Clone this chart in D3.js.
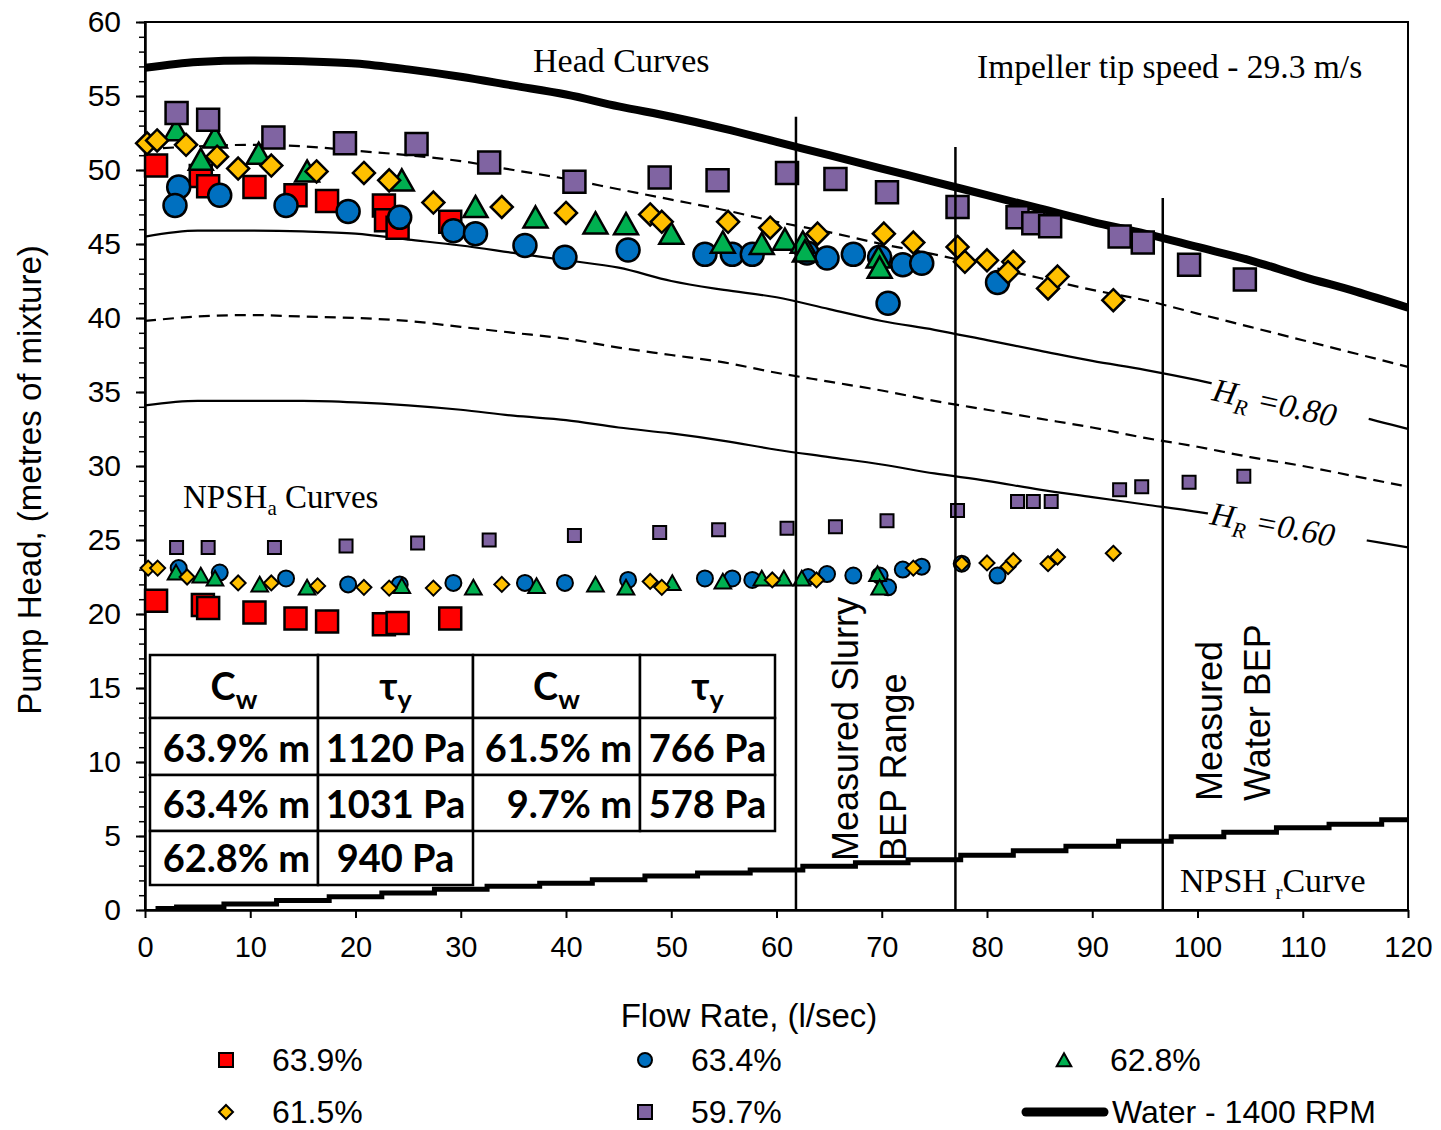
<!DOCTYPE html>
<meta charset="utf-8">
<script src="https://d3js.org/d3.v7.min.js"></script>
<style>
  body { margin: 0; background: #fff; }
  text { fill: #000; }
</style>
<div id="pump-chart"></div>
<script>

// ---- data ----
// measured head points [flow l/s, head m]
var head639 = [[1.05,50.3],[5.3,49.6],[6.0,48.9],[10.4,48.85],[14.3,48.3],[17.3,47.9],[22.7,47.6],[22.9,46.6],[24.0,46.1],[29.0,46.5]];
var head634 = [[3.2,48.85],[2.85,47.6],[7.1,48.3],[13.4,47.6],[19.3,47.2],[24.2,46.8],[29.3,45.9],[31.4,45.7],[36.1,44.9],[39.9,44.1],[45.9,44.6],[53.2,44.3],[55.8,44.3],[57.7,44.3],[62.9,44.4],[64.8,44.05],[67.3,44.3],[69.8,44.1],[70.6,41.0],[72.0,43.6],[73.8,43.7],[81.0,42.4]];
var head628 = [[2.95,52.7],[6.65,52.2],[5.3,50.7],[10.8,51.1],[15.4,49.9],[24.4,49.3],[31.4,47.5],[37.1,46.8],[42.8,46.4],[45.7,46.35],[50.0,45.7],[54.9,45.1],[58.6,45.0],[60.8,45.3],[62.5,45.1],[62.7,44.5],[69.7,44.1],[69.8,43.4]];
var head615 = [[0.2,51.8],[1.15,52.0],[3.9,51.7],[6.85,50.9],[8.85,50.1],[12.0,50.3],[16.3,49.9],[20.8,49.8],[23.2,49.3],[27.4,47.8],[33.9,47.5],[40.0,47.1],[48.0,47.0],[49.1,46.5],[55.4,46.5],[59.4,46.1],[63.9,45.7],[70.2,45.7],[73.0,45.1],[77.2,44.8],[77.9,43.8],[80.0,43.9],[82.5,43.8],[82.0,43.1],[85.8,42.0],[86.7,42.8],[92.0,41.2]];
var head597 = [[3.0,53.85],[6.0,53.4],[12.2,52.2],[19.0,51.8],[25.8,51.75],[32.7,50.5],[40.8,49.2],[48.9,49.5],[54.4,49.3],[61.0,49.8],[65.6,49.4],[70.5,48.5],[77.2,47.5],[82.9,46.8],[84.4,46.4],[86.0,46.2],[92.6,45.5],[94.8,45.1],[99.2,43.6],[104.5,42.6]];

// measured NPSHa points
var npsh639 = [[1.05,20.9],[5.5,20.6],[6.0,20.4],[10.4,20.1],[14.3,19.7],[17.3,19.5],[22.7,19.3],[24.0,19.4],[29.0,19.7]];
var npsh634 = [[3.2,23.1],[7.1,22.8],[13.4,22.4],[19.3,22.0],[24.2,22.0],[29.3,22.1],[36.1,22.1],[39.9,22.1],[45.9,22.3],[53.2,22.4],[55.8,22.4],[57.7,22.3],[63.0,22.5],[64.8,22.7],[67.3,22.6],[69.8,22.6],[70.6,21.8],[72.0,23.0],[73.8,23.2],[77.6,23.4],[81.0,22.6]];
var npsh628 = [[2.95,22.8],[5.3,22.6],[6.65,22.4],[10.9,22.0],[15.4,21.8],[24.4,21.9],[31.2,21.8],[37.2,21.9],[42.8,22.0],[45.7,21.8],[50.1,22.1],[54.9,22.2],[58.6,22.4],[60.7,22.4],[62.4,22.4],[69.6,22.7],[69.8,21.8]];
var npsh615 = [[0.3,23.1],[1.2,23.1],[4.0,22.5],[8.85,22.1],[12.0,22.1],[16.4,21.9],[20.8,21.8],[23.2,21.75],[27.4,21.75],[33.9,22.0],[48.0,22.2],[49.1,21.8],[59.6,22.3],[63.8,22.3],[73.0,23.1],[77.6,23.4],[80.0,23.45],[82.0,23.2],[82.5,23.6],[85.8,23.4],[86.7,23.85],[92.0,24.1]];
var npsh597 = [[3.0,24.5],[6.0,24.5],[12.3,24.5],[19.1,24.6],[25.9,24.8],[32.7,25.0],[40.8,25.3],[48.9,25.5],[54.5,25.7],[61.0,25.8],[65.6,25.9],[70.5,26.3],[77.2,27.0],[82.9,27.6],[84.4,27.6],[86.1,27.6],[92.6,28.4],[94.7,28.6],[99.2,28.9],[104.4,29.3]];

// head curves, read every 5 l/s
var curveQ   = [0,5,10,15,20,25,30,35,40,45,50,55,60,65,70,75,80,85,90,95,100,105,110,115,120];
var water    = [56.9,57.3,57.4,57.35,57.2,56.8,56.3,55.7,55.1,54.3,53.6,52.8,51.9,51.0,50.1,49.2,48.3,47.4,46.5,45.7,44.8,43.9,42.8,41.8,40.7];
var hr90     = [51.4,51.6,51.7,51.6,51.3,51.0,50.6,50.0,49.4,48.7,48.0,47.3,46.5,45.8,45.0,44.3,43.5,42.7,41.9,41.2,40.3,39.4,38.5,37.6,36.7];
var hr80     = [45.5,45.9,45.9,45.85,45.7,45.3,44.9,44.4,43.9,43.4,42.5,41.9,41.4,40.6,39.8,39.2,38.5,37.8,37.1,36.5,35.8,35.0,34.2,33.4,32.5];
var hr70     = [39.8,40.1,40.2,40.1,40.0,39.8,39.4,39.0,38.6,38.0,37.5,37.0,36.3,35.7,35.1,34.4,33.8,33.2,32.6,31.9,31.3,30.6,30.0,29.3,28.6];
var hr60     = [34.1,34.4,34.4,34.4,34.3,34.1,33.8,33.4,33.1,32.6,32.2,31.7,31.1,30.6,30.1,29.5,29.0,28.4,27.9,27.4,26.9,26.3,25.7,25.1,24.5];

// NPSHr curve
var npshrQ = [1,5,10,15,20,25,30,35,40,45,50,55,60,65,70,75,80,85,90,95,100,105,110,115,120];
var npshrH = [0.1,0.2,0.4,0.65,0.9,1.15,1.4,1.6,1.8,2.05,2.3,2.5,2.7,2.95,3.2,3.4,3.7,4.0,4.3,4.65,4.95,5.25,5.55,5.8,6.1];

// BEP marker lines [flow, top of line]
var bepQ   = [61.85, 77.0, 96.7];
var bepTop = [53.6, 51.55, 48.1];

var seriesNames  = ["63.9%", "63.4%", "62.8%", "61.5%", "59.7%"];
var seriesColors = ["#FF0000", "#0070C0", "#00B050", "#FFC000", "#8064A2"];
var seriesShapes = ["square", "circle", "triangle", "diamond", "square"];

var tableHead = [["C","w"],["\u03c4","y"],["C","w"],["\u03c4","y"]];
var tableRows = [["63.9% m","1120 Pa","61.5% m","766 Pa"],
                 ["63.4% m","1031 Pa","9.7% m","578 Pa"],
                 ["62.8% m","940 Pa"]];

// ---- layout ----
var margin = {top: 22, right: 33, bottom: 220, left: 145},
    width = 1263,
    height = 888;

var svg = d3.select("#pump-chart")
  .append("svg")
    .attr("width", 1441)
    .attr("height", 1130)
    .style("font-family", "'Liberation Sans', Arial, sans-serif");

var g = svg.append("g")
    .attr("transform", "translate(" + margin.left + "," + margin.top + ")");

var x = d3.scaleLinear().domain([0, 120]).range([0, width]);
var y = d3.scaleLinear().domain([0, 60]).range([height, 0]);

g.append("clipPath").attr("id", "plotclip")
  .append("rect").attr("width", width).attr("height", height);

// frame
g.append("rect")
  .attr("width", width).attr("height", height)
  .attr("fill", "none").attr("stroke", "#000").attr("stroke-width", 2);

// minor y ticks
g.append("g")
  .call(d3.axisLeft(y).tickValues(d3.range(0, 61, 1)).tickSize(6).tickFormat(""))
  .call(function(a) { a.select(".domain").remove(); a.selectAll("line").attr("stroke-width", 1.5); });

// Y axis
g.append("g")
  .call(d3.axisLeft(y).tickValues(d3.range(0, 61, 5)).tickSize(9).tickPadding(15).tickSizeOuter(0))
  .call(function(a) {
    a.select(".domain").attr("stroke-width", 2.5);
    a.selectAll("line").attr("stroke-width", 2);
    a.selectAll("text").attr("font-size", 30).attr("font-family", "'Liberation Sans', Arial, sans-serif");
  });

// X axis
g.append("g")
  .attr("transform", "translate(0," + height + ")")
  .call(d3.axisBottom(x).tickValues(d3.range(0, 121, 10)).tickSize(8).tickPadding(18).tickSizeOuter(0))
  .call(function(a) {
    a.select(".domain").attr("stroke-width", 2.5);
    a.selectAll("line").attr("stroke-width", 2);
    a.selectAll("text").attr("font-size", 29).attr("font-family", "'Liberation Sans', Arial, sans-serif");
  });

// axis titles
svg.append("text")
  .attr("transform", "translate(41,480) rotate(-90)")
  .attr("text-anchor", "middle")
  .attr("font-size", 33)
  .text("Pump Head, (metres of mixture)");

svg.append("text")
  .attr("x", 749).attr("y", 1027)
  .attr("text-anchor", "middle")
  .attr("font-size", 33)
  .text("Flow Rate, (l/sec)");

// ---- curves ----
var plot = g.append("g").attr("clip-path", "url(#plotclip)");

function curvePts(vals) { return curveQ.map(function(q, i) { return [q, vals[i]]; }); }

var line = d3.line()
  .x(function(d) { return x(d[0]); })
  .y(function(d) { return y(d[1]); })
  .curve(d3.curveMonotoneX);

[[hr90, true], [hr80, false], [hr70, true], [hr60, false]].forEach(function(c) {
  plot.append("path")
    .datum(curvePts(c[0]))
    .attr("fill", "none")
    .attr("stroke", "#000")
    .attr("stroke-width", 2.2)
    .attr("stroke-dasharray", c[1] ? "11,7" : null)
    .attr("d", line);
});

plot.append("path")
  .datum(curvePts(water))
  .attr("fill", "none")
  .attr("stroke", "#000")
  .attr("stroke-width", 8)
  .attr("d", line);

plot.append("path")
  .datum(npshrQ.map(function(q, i) { return [q, npshrH[i]]; }))
  .attr("fill", "none")
  .attr("stroke", "#000")
  .attr("stroke-width", 5)
  .attr("d", d3.line()
    .x(function(d) { return x(d[0]); })
    .y(function(d) { return y(d[1]); })
    .curve(d3.curveStep));

// ---- markers ----
function symbolPath(shape, s) {
  if (shape === "square") return d3.symbol(d3.symbolSquare, s * s)();
  if (shape === "circle") return d3.symbol(d3.symbolCircle, Math.PI * s * s / 4)();
  if (shape === "triangle") return "M0," + (-s * 0.48) + "L" + (s * 0.52) + "," + (s * 0.44) + "L" + (-s * 0.52) + "," + (s * 0.44) + "Z";
  return "M0," + (-s / 2) + "L" + (s / 2) + ",0L0," + (s / 2) + "L" + (-s / 2) + ",0Z";
}

var headSets = [head639, head634, head628, head615, head597];
var npshSets = [npsh639, npsh634, npsh628, npsh615, npsh597];
var headSize = [22, 23, 23, 22, 22];
var npshSize = [22, 16, 16, 15, 13];

var marks = g.append("g");
headSets.forEach(function(pts, i) {
  // NPSH markers
  marks.selectAll(".np" + i)
    .data(npshSets[i])
    .enter().append("path")
      .attr("transform", function(d) { return "translate(" + x(d[0]) + "," + y(d[1]) + ")"; })
      .attr("d", symbolPath(seriesShapes[i], npshSize[i]))
      .attr("fill", seriesColors[i])
      .attr("stroke", "#000")
      .attr("stroke-width", i === 0 ? 2.5 : 2);
  // head markers
  marks.selectAll(".hd" + i)
    .data(pts)
    .enter().append("path")
      .attr("transform", function(d) { return "translate(" + x(d[0]) + "," + y(d[1]) + ")"; })
      .attr("d", symbolPath(seriesShapes[i], headSize[i]))
      .attr("fill", seriesColors[i])
      .attr("stroke", "#000")
      .attr("stroke-width", 2.5);
});

// BEP vertical lines
g.selectAll(".bep")
  .data(bepQ)
  .enter().append("line")
    .attr("x1", function(d) { return x(d); })
    .attr("x2", function(d) { return x(d); })
    .attr("y1", function(d, i) { return y(bepTop[i]); })
    .attr("y2", y(0))
    .attr("stroke", "#000")
    .attr("stroke-width", 2.5);

// ---- annotations ----
var serif = "'Liberation Serif', 'Times New Roman', serif";

svg.append("text").attr("x", 533).attr("y", 72)
  .attr("font-family", serif).attr("font-size", 34).text("Head Curves");

svg.append("text").attr("x", 977).attr("y", 78)
  .attr("font-family", serif).attr("font-size", 33.5).text("Impeller tip speed - 29.3 m/s");

var npa = svg.append("text").attr("x", 183).attr("y", 508)
  .attr("font-family", serif).attr("font-size", 33);
npa.append("tspan").text("NPSH");
npa.append("tspan").attr("font-size", 21).attr("dy", 7).text("a");
npa.append("tspan").attr("dy", -7).text(" Curves");

var npr = svg.append("text").attr("x", 1180).attr("y", 892)
  .attr("font-family", serif).attr("font-size", 34);
npr.append("tspan").text("NPSH ");
npr.append("tspan").attr("font-size", 21).attr("dy", 7).text("r");
npr.append("tspan").attr("dy", -7).text("Curve");

// HR labels sitting on the lines
function hrLabel(px, py, angle, val) {
  var lg = svg.append("g").attr("transform", "translate(" + px + "," + py + ") rotate(" + angle + ")");
  var bg = lg.append("rect").attr("fill", "#fff");
  var t = lg.append("text")
    .attr("font-family", serif).attr("font-style", "italic").attr("font-size", 33);
  t.append("tspan").text("H");
  t.append("tspan").attr("font-size", 22).attr("dy", 8).text("R");
  t.append("tspan").attr("dy", -8).text(" =" + val);
  var b = t.node().getBBox();
  bg.attr("x", b.x - 2).attr("y", b.y + 4).attr("width", b.width + 34).attr("height", b.height - 6);
}
hrLabel(1211, 400, 12.5, "0.80");
hrLabel(1209, 524, 10.5, "0.60");

// BEP labels (rotated)
function vLabel(px, py, txt) {
  svg.append("text")
    .attr("transform", "translate(" + px + "," + py + ") rotate(-90)")
    .attr("font-size", 36)
    .text(txt);
}
vLabel(858, 861, "Measured Slurry");
vLabel(906, 861, "BEP Range");
vLabel(1222, 801, "Measured");
vLabel(1270, 801, "Water BEP");

// ---- table ----
var colX = [150, 318, 473, 640, 775];
var rowY = [655, 718, 775, 831, 885];
var tbl = svg.append("g").style("font-family", "Lato, 'Open Sans', sans-serif").style("font-weight", "bold");

function cell(r, c, content, isHead) {
  var x0 = colX[c], x1 = colX[c + 1], y0 = rowY[r], y1 = rowY[r + 1];
  tbl.append("rect")
    .attr("x", x0).attr("y", y0).attr("width", x1 - x0).attr("height", y1 - y0)
    .attr("fill", "#fff").attr("stroke", "#000").attr("stroke-width", 2.5);
  var t = tbl.append("text").attr("font-size", 38).attr("y", y1 - 13);
  if (isHead) {
    t.attr("x", (x0 + x1) / 2).attr("text-anchor", "middle").attr("y", y1 - 18);
    t.append("tspan").text(content[0]);
    t.append("tspan").attr("font-size", 27).attr("dy", 9).text(content[1]);
  } else if (c % 2 === 0) {
    t.attr("x", x1 - 8).attr("text-anchor", "end").text(content);
  } else {
    t.attr("x", (x0 + x1) / 2).attr("text-anchor", "middle").text(content);
  }
}
tableHead.forEach(function(h, c) { cell(0, c, h, true); });
tableRows.forEach(function(row, r) {
  row.forEach(function(v, c) { cell(r + 1, c, v, false); });
});

// ---- legend ----
var legX = [226, 645, 1064];
var legY = [1060, 1112];
var leg = svg.append("g");
seriesNames.forEach(function(name, i) {
  var lx = legX[i % 3], ly = legY[Math.floor(i / 3)];
  leg.append("path")
    .attr("transform", "translate(" + lx + "," + ly + ")")
    .attr("d", symbolPath(seriesShapes[i], 14))
    .attr("fill", seriesColors[i])
    .attr("stroke", "#000")
    .attr("stroke-width", 2);
  leg.append("text")
    .attr("x", lx + 46).attr("y", ly + 11)
    .attr("font-size", 32)
    .text(name);
});
leg.append("line")
  .attr("x1", 1026).attr("x2", 1104)
  .attr("y1", legY[1]).attr("y2", legY[1])
  .attr("stroke", "#000").attr("stroke-width", 9).attr("stroke-linecap", "round");
leg.append("text")
  .attr("x", 1112).attr("y", legY[1] + 11)
  .attr("font-size", 32)
  .text("Water - 1400 RPM");

</script>
